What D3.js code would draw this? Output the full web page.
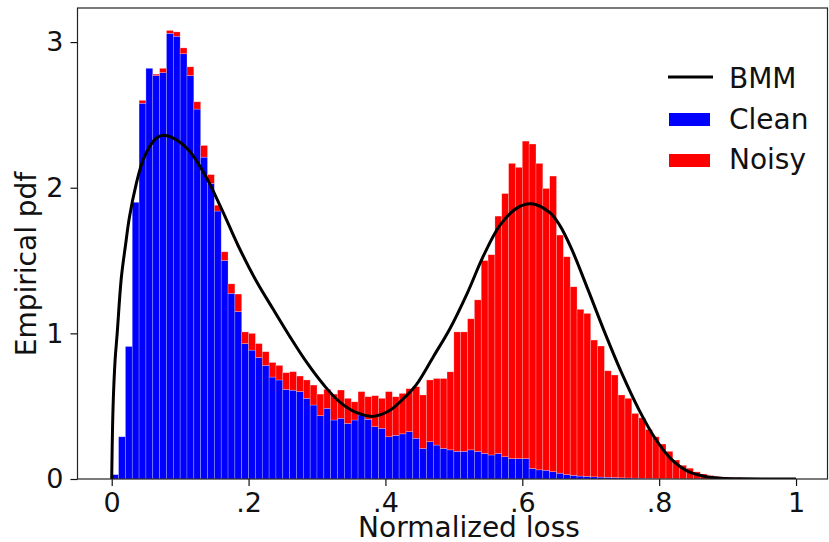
<html>
<head>
  <style>
  body { margin: 0; background: #fff; }
  #chart text { font-family: "DejaVu Sans", sans-serif; fill: #111; }
  </style>
  <script src="https://d3js.org/d3.v7.min.js"></script>
</head>
<body>
  <svg id="chart"></svg>
</body>
  <script>
  // histogram: 100 bins of width .01 on [0, 1], stacked clean + noisy density
  var binEdges = d3.range(0, 101).map(function(i) { return i / 100; });

  var cleanVals = [
    0.03, 0.29, 0.91, 1.90, 2.58, 2.82, 2.77, 2.79, 3.06, 3.04,
    2.92, 2.77, 2.54, 2.21, 2.03, 1.84, 1.50, 1.275, 1.15, 0.93,
    0.885, 0.835, 0.78, 0.70, 0.68, 0.615, 0.61, 0.60, 0.554, 0.508,
    0.435, 0.485, 0.405, 0.417, 0.382, 0.405, 0.44, 0.41, 0.359, 0.348,
    0.29, 0.30, 0.31, 0.325, 0.28, 0.21, 0.256, 0.233, 0.21, 0.20,
    0.19, 0.19, 0.20, 0.19, 0.176, 0.165, 0.176, 0.153, 0.14, 0.14,
    0.14, 0.073, 0.063, 0.06, 0.05, 0.04, 0.03, 0.025, 0.02, 0.018,
    0.015, 0.013, 0.012, 0.01, 0.008, 0.007, 0.006, 0.005, 0.004, 0.003,
    0.002, 0.002, 0.002, 0.001, 0.001, 0.001, 0, 0, 0, 0,
    0, 0, 0, 0, 0, 0, 0, 0, 0, 0
  ];

  var noisyVals = [
    0, 0, 0, 0, 0.02, 0, 0.01, 0.03, 0.02, 0.03,
    0.04, 0.06, 0.05, 0.08, 0.06, 0.04, 0.06, 0.065, 0.12, 0.08,
    0.115, 0.095, 0.094, 0.10, 0.10, 0.115, 0.127, 0.107, 0.126, 0.137,
    0.148, 0.131, 0.178, 0.194, 0.172, 0.125, 0.16, 0.155, 0.213, 0.206,
    0.31, 0.265, 0.278, 0.295, 0.354, 0.367, 0.424, 0.457, 0.48, 0.536,
    0.82, 0.82, 0.90, 1.04, 1.324, 1.375, 1.629, 1.807, 2.027, 2.00,
    2.18, 2.227, 2.104, 1.935, 2.03, 1.635, 1.496, 1.295, 1.145, 1.119,
    0.939, 0.90, 0.731, 0.704, 0.569, 0.547, 0.444, 0.415, 0.336, 0.287,
    0.238, 0.188, 0.128, 0.093, 0.073, 0.048, 0.034, 0.024, 0.017, 0.013,
    0.011, 0.01, 0.006, 0.004, 0, 0, 0, 0, 0, 0
  ];

  // fitted beta mixture curve
  var bmmX = [0, 0.002, 0.005, 0.008, 0.014, 0.02, 0.026, 0.036, 0.045, 0.055,
    0.065, 0.075, 0.09, 0.112, 0.136, 0.16, 0.185, 0.21, 0.236, 0.26,
    0.285, 0.31, 0.333, 0.358, 0.382, 0.406, 0.428, 0.4455, 0.47, 0.494,
    0.52, 0.543, 0.567, 0.592, 0.613, 0.64, 0.655, 0.672, 0.696, 0.721,
    0.745, 0.77, 0.794, 0.818, 0.843, 0.867, 0.891, 0.92, 0.96, 1.0];
  var bmmY = [0, 0.5, 0.82, 1.0, 1.38, 1.6, 1.8, 2.03, 2.18, 2.28,
    2.34, 2.36, 2.34, 2.26, 2.09, 1.86, 1.60, 1.37, 1.165, 0.98,
    0.80, 0.645, 0.53, 0.455, 0.43, 0.47, 0.56, 0.65, 0.84, 1.03,
    1.28, 1.53, 1.74, 1.86, 1.89, 1.83, 1.74, 1.58, 1.30, 1.0,
    0.73, 0.48, 0.28, 0.135, 0.05, 0.017, 0.005, 0.001, 0, 0];

  var xTicks = [0, 0.2, 0.4, 0.6, 0.8, 1];
  var xTickLabels = ["0", ".2", ".4", ".6", ".8", "1"];
  var yTicks = [0, 1, 2, 3];
  var yTickLabels = ["0", "1", "2", "3"];
  var seriesNames = ["Clean", "Noisy"];
  var seriesColors = ["#0000ff", "#ff0000"];

  var width = 829, height = 542;
  var plotLeft = 77.5, plotRight = 827.5, plotTop = 8, plotBottom = 479;

  var x = d3.scaleLinear().domain([-0.05, 1.046]).range([plotLeft, plotRight]);
  var y = d3.scaleLinear().domain([0, 3.234]).range([plotBottom, plotTop]);

  var svg = d3.select("#chart")
      .attr("width", width)
      .attr("height", height);

  svg.append("clipPath").attr("id", "plotclip")
    .append("rect")
      .attr("x", plotLeft).attr("y", plotTop)
      .attr("width", plotRight - plotLeft).attr("height", plotBottom - plotTop);

  // stack the two series per bin
  var rows = cleanVals.map(function(c, i) {
    return { x0: binEdges[i], x1: binEdges[i + 1], Clean: c, Noisy: noisyVals[i] };
  });
  var stacked = d3.stack().keys(seriesNames)(rows);

  var plot = svg.append("g").attr("clip-path", "url(#plotclip)");

  plot.selectAll("g.series")
      .data(stacked)
    .enter().append("g")
      .attr("class", "series")
      .attr("fill", function(d, i) { return seriesColors[i]; })
    .selectAll("rect")
      .data(function(d) { return d; })
    .enter().append("rect")
      .attr("x", function(d) { return x(d.data.x0); })
      .attr("width", function(d) { return x(d.data.x1) - x(d.data.x0); })
      .attr("y", function(d) { return y(d[1]); })
      .attr("height", function(d) { return Math.max(0, y(d[0]) - y(d[1])); })
      .attr("stroke", "rgba(255,255,255,0.4)")
      .attr("stroke-width", 0.6);

  var line = d3.line()
      .x(function(d) { return x(d[0]); })
      .y(function(d) { return y(d[1]); })
      .curve(d3.curveCatmullRom.alpha(0.5));

  plot.append("path")
      .datum(bmmX.map(function(v, i) { return [v, bmmY[i]]; }))
      .attr("d", line)
      .attr("fill", "none")
      .attr("stroke", "#000")
      .attr("stroke-width", 3)
      .attr("stroke-linejoin", "round");

  // axes
  var xAxis = svg.append("g")
      .attr("transform", "translate(0," + plotBottom + ")")
      .call(d3.axisBottom(x).tickValues(xTicks)
        .tickFormat(function(d, i) { return xTickLabels[i]; })
        .tickSize(7).tickPadding(7).tickSizeOuter(0));
  var yAxis = svg.append("g")
      .attr("transform", "translate(" + plotLeft + ",0)")
      .call(d3.axisLeft(y).tickValues(yTicks)
        .tickFormat(function(d, i) { return yTickLabels[i]; })
        .tickSize(7).tickPadding(7).tickSizeOuter(0));

  [xAxis, yAxis].forEach(function(a) {
    a.select(".domain").remove();
    a.selectAll(".tick line").attr("stroke", "#111").attr("stroke-width", 1.2);
    a.selectAll(".tick text")
      .attr("font-family", "DejaVu Sans")
      .attr("font-size", 27)
      .attr("fill", "#111");
  });

  // frame
  svg.append("rect")
      .attr("x", plotLeft).attr("y", plotTop)
      .attr("width", plotRight - plotLeft).attr("height", plotBottom - plotTop)
      .attr("fill", "none")
      .attr("stroke", "#222")
      .attr("stroke-width", 1.2);

  // axis labels
  svg.append("text")
      .attr("x", 469).attr("y", 537)
      .attr("text-anchor", "middle")
      .attr("font-size", 28)
      .text("Normalized loss");
  svg.append("text")
      .attr("transform", "translate(36,264) rotate(-90)")
      .attr("text-anchor", "middle")
      .attr("font-size", 28)
      .text("Empirical pdf");

  // legend
  var legend = svg.append("g");
  legend.append("line")
      .attr("x1", 668).attr("x2", 713)
      .attr("y1", 77).attr("y2", 77)
      .attr("stroke", "#000").attr("stroke-width", 3);
  legend.append("text")
      .attr("x", 729).attr("y", 87.5)
      .attr("font-size", 28)
      .text("BMM");
  seriesNames.forEach(function(name, i) {
    legend.append("rect")
        .attr("x", 669).attr("y", 113 + i * 41)
        .attr("width", 41).attr("height", 13)
        .attr("fill", seriesColors[i]);
    legend.append("text")
        .attr("x", 729).attr("y", 128.5 + i * 40.5)
        .attr("font-size", 28)
        .text(name);
  });
  </script>
</html>
